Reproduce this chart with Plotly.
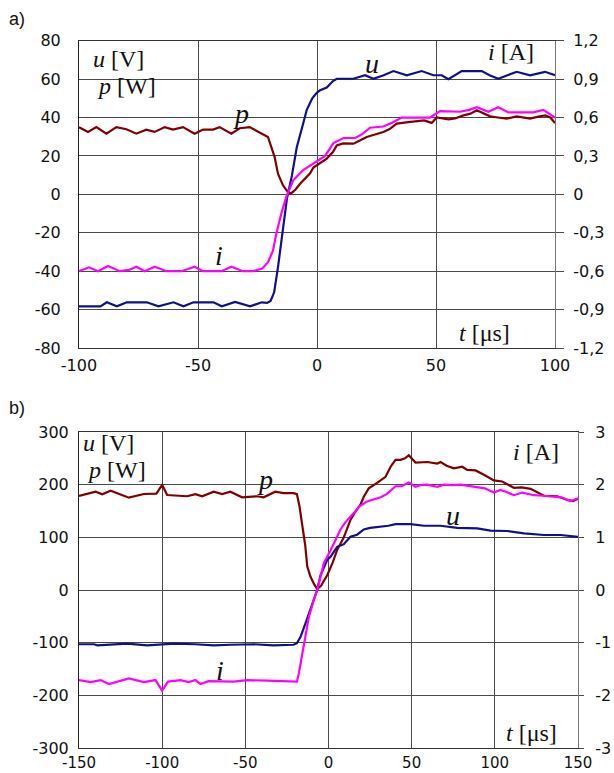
import plotly.graph_objects as go

# ---------------- data: panel a) ----------------
t_u_a = [-100, -91, -88.3, -84.1, -79.9, -71.5, -66.6, -60.3, -56.1, -51.9, -43.5, -40, -34.4, -28.1,
         -23.2, -21, -19.5, -18, -16.4, -14.5, -12.6, -10.5, -8.5, -6, -4.3, -2, 0, 1.3, 4.1, 6.7,
         8.3, 12, 15.3, 20.2, 23.7, 28, 32.1, 37.7, 44, 48.9, 52.4, 55.2, 60.8, 65, 69.2, 72.5, 76.2,
         80, 83.9, 89.5, 95.8, 100]
u_a = [-58.3, -58.3, -56.2, -58.3, -56.2, -56.2, -58.3, -56.2, -58.3, -56.2, -56.2, -58.3, -56, -58.3,
       -56.2, -56.5, -55.5, -51, -38, -20, -2, 10, 24.5, 36, 44, 50, 53, 54.2, 55.6, 59,
       60.2, 60.2, 60.2, 62, 60.2, 62, 64.2, 62, 64.2, 62, 62, 59.9, 64.2, 64.2, 64.2, 62, 60.2,
       62, 63.8, 62, 63.8, 62]

t_p_a = [-100, -96.2, -92.7, -88.5, -84.3, -80.1, -75.9, -71.7, -68.2, -64, -60.5, -56.3, -51.4, -47.9,
         -43.7, -40.9, -36, -32.5, -28.3, -24.8, -20.6, -17.8, -16.4, -14.3, -12.2, -11, -9, -7.1,
         -4.5, -2.9, -1.5, 0.4, 2.5, 4.1, 6.7, 8.3, 11, 15.3, 18, 20.9, 24, 27.9, 30.5, 33.5, 37.5,
         41.9, 45, 48.2, 50.3, 55.2, 58, 61.5, 64.5, 67.1, 70, 72.7, 76, 79.7, 83.9, 86.5, 89.5, 93,
         95.8, 98, 100]
p_a = [35, 32.5, 35, 31.6, 35, 33.9, 31.6, 33.7, 32.5, 35, 33.7, 35, 31.6, 33.7,
       33.7, 35, 31.6, 34.4, 35, 32.5, 29.9, 19.4, 10.8, 4.7, 1.2, 0.4, 2.5, 5.5,
       9, 11, 14, 15.5, 17, 18.6, 22, 25.5, 26.5, 26.4, 28, 29.9, 31, 32.5, 34, 36.8, 37.5,
       38.2, 38.5, 37.2, 40, 39, 39.5, 41.1, 42, 43.8, 42, 40.6, 40, 39.4, 40.6, 40, 39.4, 40.5,
       41.1, 40, 37.2]

t_i_a = [-100, -95.8, -92, -87.8, -82.9, -79, -75.9, -72.4, -68.2, -63.3, -57, -51.4, -47.9, -40.2,
         -36, -31.1, -26.9, -23, -20.6, -18.5, -17.1, -15, -12.9, -10, -5.8, -0.8, 3.4, 6.9, 11.1,
         16, 19, 22.3, 27.9, 31.5, 35.6, 41.9, 47.5, 51.7, 56, 60.1, 64, 67.1, 72, 76.2, 80.4, 85,
         90.9, 95.1, 100]
i_a = [-0.60, -0.57, -0.60, -0.56, -0.60, -0.59, -0.565, -0.60, -0.565, -0.60, -0.60, -0.565, -0.60, -0.60,
       -0.565, -0.60, -0.60, -0.58, -0.53, -0.44, -0.31, -0.15, -0.02, 0.11, 0.19, 0.25, 0.30, 0.40, 0.44,
       0.44, 0.47, 0.52, 0.53, 0.56, 0.60, 0.60, 0.60, 0.65, 0.645, 0.645, 0.66, 0.68, 0.645, 0.68, 0.64, 0.64,
       0.64, 0.66, 0.60]

# ---------------- data: panel b) ----------------
t_u_b = [-150, -141, -139, -121, -109, -100, -93, -80, -69, -59, -45, -33, -21, -19, -16.8, -13.8, -9.8,
         -6.8, -4.8, -0.8, 1.2, 5.2, 9.2, 13.2, 17.2, 21.2, 25, 31.3, 36, 40.3, 49.3, 57.4, 67.4, 77.4,
         89.4, 97.4, 107.4, 117.5, 129.5, 139.6, 150]
u_b = [-103, -103, -105, -102, -105, -103, -102, -103, -105, -104, -103, -105, -104, -101, -89, -63, -25,
       0, 28, 57, 63, 82, 87, 101, 105, 115, 118, 120, 122, 125, 125, 122, 122, 118,
       117, 112.6, 112, 107.6, 104.4, 104.4, 101]

t_p_b = [-150, -140, -136, -131, -120, -111, -103.5, -100, -97, -85, -80, -76, -69, -64, -59, -52, -43, -39,
         -32, -27, -21, -19, -17.5, -15.8, -14, -12.8, -10.8, -8.5, -6.8, -4.5, -0.8, 2.5, 5.2, 9.2, 13.2,
         16, 19.2, 21.2, 24.2, 29, 34.3, 37.5, 40.3, 43.3, 46, 48.3, 52.3, 59.4, 65.4, 67.4, 71, 75.4,
         80.4, 83.4, 88.4, 94, 99.4, 104.4, 111.5, 116, 121.5, 129.5, 137.6, 143.6, 147, 150]
p_b = [178.5, 186.7, 181.6, 188.6, 175.3, 182.3, 183, 199.4, 180.4, 178, 182, 178, 186.7, 182, 186.7, 176, 178, 176,
       186.7, 184, 184, 182, 160, 120, 85, 45, 25, 10, 2, 8, 28, 52, 76, 100, 133,
       148, 162, 177, 193, 203, 215, 235, 247, 247, 250, 256, 242, 243, 240, 243, 236, 231,
       234, 228, 227, 218, 208, 206, 194, 195, 192, 179, 178, 171, 169, 173]

t_i_b = [-150, -143, -137, -132, -120, -111, -104, -100, -96.5, -89, -84, -80, -77, -72, -57, -49, -37, -21,
         -19, -17.8, -14.8, -11.8, -8.8, -6.8, -2.8, 1.2, 7.2, 10, 15.2, 19, 23.2, 27, 31.3, 35, 40.3, 44,
         48.3, 52.3, 55, 59.4, 65.4, 69.4, 74, 79.4, 84, 89.4, 94, 99.4, 103.4, 107, 111.5, 116.5, 123.5,
         129, 135.6, 140, 145.6, 150]
i_b = [-1.71, -1.75, -1.71, -1.785, -1.677, -1.75, -1.71, -1.91, -1.74, -1.71, -1.75, -1.71, -1.785, -1.73,
       -1.74, -1.71, -1.72, -1.75, -1.74, -1.58, -1.08, -0.51, -0.19, 0, 0.51, 0.75, 1.15, 1.28, 1.46, 1.6,
       1.68, 1.72, 1.76, 1.82, 1.97, 1.97, 2.04, 1.96, 1.99, 2.0, 1.96, 2.0, 1.99, 2.0, 1.98, 1.95, 1.93,
       1.85, 1.90, 1.86, 1.80, 1.85, 1.80, 1.79, 1.78, 1.76, 1.69, 1.74]

# ---------------- tick labels ----------------
xt_a = [-100, -50, 0, 50, 100]
xt_a_txt = ["-100", "-50", "0", "50", "100"]
yl_a = [-80, -60, -40, -20, 0, 20, 40, 60, 80]
yl_a_txt = ["-80", "-60", "-40", "-20", "0", "20", "40", "60", "80"]
yr_a = [-1.2, -0.9, -0.6, -0.3, 0, 0.3, 0.6, 0.9, 1.2]
yr_a_txt = ["-1,2", "-0,9", "-0,6", "-0,3", "0", "0,3", "0,6", "0,9", "1,2"]

xt_b = [-150, -100, -50, 0, 50, 100, 150]
xt_b_txt = ["-150", "-100", "-50", "0", "50", "100", "150"]
yl_b = [-300, -200, -100, 0, 100, 200, 300]
yl_b_txt = ["-300", "-200", "-100", "0", "100", "200", "300"]
yr_b = [-3, -2, -1, 0, 1, 2, 3]
yr_b_txt = ["-3", "-2", "-1", "0", "1", "2", "3"]

# ---------------- styles ----------------
W, H = 614, 773
C_U = "#10108a"
C_P = "#800000"
C_I = "#ff00ff"
GRID = "#4a4a4a"
TICKFONT = dict(family="DejaVu Sans", size=16, color="#111111")
TICKFONT_BX = dict(family="DejaVu Sans", size=15, color="#111111")
SERIF = "Liberation Serif"


def px_x(px):
    return px / W


def px_y(py):
    return 1 - py / H


fig = go.Figure()

lw = 2.2
fig.add_trace(go.Scatter(x=t_p_a, y=p_a, mode="lines", line=dict(color=C_P, width=lw),
                         xaxis="x", yaxis="y", showlegend=False))
fig.add_trace(go.Scatter(x=t_i_a, y=i_a, mode="lines", line=dict(color=C_I, width=lw),
                         xaxis="x", yaxis="y2", showlegend=False))
fig.add_trace(go.Scatter(x=t_u_a, y=u_a, mode="lines", line=dict(color=C_U, width=lw),
                         xaxis="x", yaxis="y", showlegend=False))

fig.add_trace(go.Scatter(x=t_p_b, y=p_b, mode="lines", line=dict(color=C_P, width=lw),
                         xaxis="x2", yaxis="y3", showlegend=False))
fig.add_trace(go.Scatter(x=t_u_b, y=u_b, mode="lines", line=dict(color=C_U, width=lw),
                         xaxis="x2", yaxis="y3", showlegend=False))
fig.add_trace(go.Scatter(x=t_i_b, y=i_b, mode="lines", line=dict(color=C_I, width=lw),
                         xaxis="x2", yaxis="y4", showlegend=False))

common_x = dict(showgrid=True, gridcolor=GRID, gridwidth=1, zeroline=False, showline=True,
                linecolor="#333333", linewidth=1, mirror=True, ticks="",
                fixedrange=True, automargin=False)
common_yl = dict(showgrid=True, gridcolor=GRID, gridwidth=1, zeroline=False, showline=True,
                 linecolor="#222222", linewidth=1, ticks="", tickfont=TICKFONT, fixedrange=True,
                 automargin=False)
common_yr = dict(showgrid=False, zeroline=False, showline=True, linecolor="#777777", linewidth=1,
                 ticks="outside", tickcolor=GRID, tickfont=TICKFONT, side="right", fixedrange=True,
                 automargin=False)

fig.update_layout(
    width=W, height=H,
    margin=dict(l=0, r=0, t=0, b=0, autoexpand=False),
    paper_bgcolor="white", plot_bgcolor="white",
    showlegend=False,
    xaxis=dict(domain=[px_x(79), px_x(555)], anchor="y", range=[-100, 100],
               tickvals=xt_a, ticktext=xt_a_txt, ticklabelstandoff=3, tickfont=TICKFONT, **common_x),
    yaxis=dict(domain=[px_y(348), px_y(40.7)], anchor="x", range=[-80, 80],
               tickvals=yl_a, ticktext=yl_a_txt, ticklabelstandoff=14, **common_yl),
    yaxis2=dict(overlaying="y", anchor="x", range=[-1.2, 1.2], tickvals=yr_a, ticktext=yr_a_txt,
                ticklen=8, ticklabelstandoff=6, **common_yr),
    xaxis2=dict(domain=[px_x(79), px_x(578)], anchor="y3", range=[-150, 150],
                tickvals=xt_b, ticktext=xt_b_txt, ticklabelstandoff=1, tickfont=TICKFONT_BX,
                **common_x),
    yaxis3=dict(domain=[px_y(748), px_y(432)], anchor="x2", range=[-300, 300],
                tickvals=yl_b, ticktext=yl_b_txt, ticklabelstandoff=6, **common_yl),
    yaxis4=dict(overlaying="y3", anchor="x2", range=[-3, 3], tickvals=yr_b, ticktext=yr_b_txt,
                ticklen=5, ticklabelstandoff=8, **common_yr),
)

# white mask behind the unit labels of panel a)
fig.add_shape(type="rect", xref="paper", yref="paper",
              x0=px_x(85), x1=px_x(185), y0=px_y(105), y1=px_y(45),
              fillcolor="white", line=dict(width=0), layer="between")

ann = []
# panel letters
ann.append(dict(text="a)", x=px_x(7), y=px_y(19), xref="paper", yref="paper",
                xanchor="left", yanchor="middle", showarrow=False,
                font=dict(family="Liberation Sans", size=18, color="#111")))
ann.append(dict(text="b)", x=px_x(7), y=px_y(408), xref="paper", yref="paper",
                xanchor="left", yanchor="middle", showarrow=False,
                font=dict(family="Liberation Sans", size=18, color="#111")))


def lab(text, xp, yp, size=24):
    return dict(text=text, x=px_x(xp), y=px_y(yp), xref="paper", yref="paper",
                xanchor="left", yanchor="middle", showarrow=False,
                font=dict(family=SERIF, size=size, color="#111"))


# axis unit labels panel a
ann.append(lab("<i>u</i> [V]", 91, 59))
ann.append(lab("<i>p</i> [W]", 95, 86))
ann.append(lab("<i>i</i> [A]", 486, 52))
ann.append(lab("<i>t</i> [μs]", 457, 333))
# axis unit labels panel b
ann.append(lab("<i>u</i> [V]", 81, 443))
ann.append(lab("<i>p</i> [W]", 85, 470))
ann.append(lab("<i>i</i> [A]", 511, 452))
ann.append(lab("<i>t</i> [μs]", 504, 733))


def series_lab(text, x, y, xr, yr, size=28):
    return dict(text="<i>%s</i>" % text, x=x, y=y, xref=xr, yref=yr, showarrow=False,
                xanchor="center", yanchor="middle",
                font=dict(family=SERIF, size=size, color="#111"))


ann.append(series_lab("p", -32, 42, "x", "y"))
ann.append(series_lab("u", 23, 68, "x", "y"))
ann.append(series_lab("i", -41, -32, "x", "y"))
ann.append(series_lab("p", -38, 210, "x2", "y3"))
ann.append(series_lab("u", 75, 142, "x2", "y3"))
ann.append(series_lab("i", -65.5, -152, "x2", "y3"))

fig.update_layout(annotations=ann)

fig.write_html("out.html", config={"displayModeBar": False},
               post_script="document.body.style.margin='0px';document.body.style.overflow='hidden';")
